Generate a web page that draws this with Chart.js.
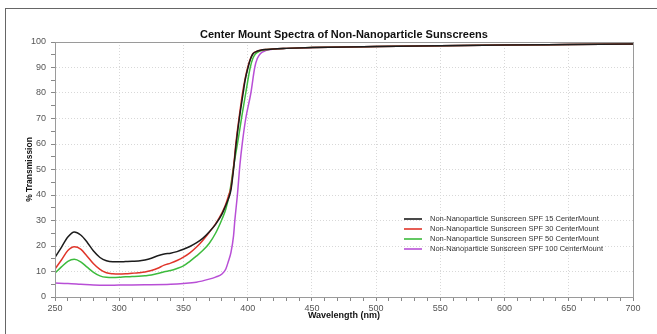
<!DOCTYPE html>
<html>
<head>
<meta charset="utf-8">
<script src="https://cdn.jsdelivr.net/npm/chart.js@4/dist/chart.umd.min.js"></script>
<style>
  html, body { margin: 0; padding: 0; background: #fff; }
  #wrap { position: relative; width: 657px; height: 334px; overflow: hidden; }
  #frame { position: absolute; left: 5px; top: 8px; width: 700px; height: 400px;
           border-left: 1.5px solid #666; border-top: 1.5px solid #666; }
  canvas { position: absolute; left: 0; top: 0; }
</style>
</head>
<body>
<div id="wrap">
  <div id="frame"></div>
  <canvas id="spectra" width="657" height="334"></canvas>
</div>
<script>
const chartTitle = 'Center Mount Spectra of Non-Nanoparticle Sunscreens';
const seriesNames = [
  'Non-Nanoparticle Sunscreen SPF 15 CenterMount',
  'Non-Nanoparticle Sunscreen SPF 30 CenterMount',
  'Non-Nanoparticle Sunscreen SPF 50 CenterMount',
  'Non-Nanoparticle Sunscreen SPF 100 CenterMount'
];
const seriesColors = ['#1c1c1c', '#e0352a', '#3dbb3d', '#b84fd6'];

// wavelength (nm) / % transmission pairs, one set per sunscreen
const spf15Nm = [250, 255, 260, 265, 270, 275, 280, 285, 290, 295, 300, 305, 310, 315, 320, 325, 330, 335, 340, 345, 350, 355, 360, 365, 370, 375, 380, 383, 385, 387, 389, 391, 393.5, 396.5, 398, 400.3, 402, 404, 407, 410, 415, 420, 430, 450, 500, 550, 600, 650, 700];
const spf15T  = [15.5, 19.5, 23.5, 25.5, 24.3, 21.5, 18, 15.5, 14.2, 13.8, 13.8, 13.9, 14, 14.1, 14.5, 15.2, 16.2, 16.9, 17.2, 17.8, 18.7, 19.8, 21.2, 23, 25.5, 28.5, 32.5, 36, 38.5, 42, 50, 60, 70, 80, 85, 90, 93, 95.3, 96.3, 96.8, 97.1, 97.3, 97.5, 97.8, 98.2, 98.5, 98.8, 99, 99.2];

const spf30Nm = [250, 255, 260, 265, 270, 275, 280, 285, 290, 295, 300, 305, 310, 315, 320, 325, 330, 335, 340, 345, 350, 355, 360, 365, 370, 375, 380, 383, 385, 387, 389, 391, 393.5, 396, 398, 400, 402, 404, 407, 410, 415, 420, 430, 450, 500, 550, 600, 650, 700];
const spf30T  = [11, 14.5, 18.2, 19.7, 18.8, 16, 13, 10.8, 9.5, 9.1, 9, 9.1, 9.3, 9.5, 9.8, 10.4, 11.3, 12.5, 13.3, 14.3, 15.6, 17.3, 19.5, 22.2, 25.3, 28.7, 33, 36.5, 39.5, 43, 51, 61, 71, 80, 85.5, 90, 93.2, 95.4, 96.3, 96.8, 97.1, 97.3, 97.5, 97.8, 98.2, 98.5, 98.8, 99, 99.2];

const spf50Nm = [250, 255, 260, 265, 270, 275, 280, 285, 290, 295, 300, 305, 310, 315, 320, 325, 330, 335, 340, 345, 350, 355, 360, 365, 370, 375, 380, 383, 386, 389, 391, 393, 395.5, 398.5, 402, 404, 406, 409, 412, 416, 420, 430, 450, 500, 550, 600, 650, 700];
const spf50T  = [9.4, 11.8, 14, 14.8, 13.8, 11.7, 9.7, 8.3, 7.7, 7.6, 7.7, 7.9, 8, 8.1, 8.3, 8.6, 9.2, 9.9, 10.4, 11.2, 12.2, 14, 16, 18.2, 21, 25, 30.5, 34.5, 41, 51, 57, 63, 71, 80, 90, 93.5, 95.3, 96.3, 96.8, 97.1, 97.3, 97.5, 97.8, 98.2, 98.5, 98.8, 99, 99.2];

const spf100Nm = [250, 260, 270, 280, 290, 300, 320, 340, 350, 360, 370, 375, 380, 383, 385, 387, 389, 390, 392, 394, 396, 398.5, 402.5, 405.5, 407.5, 410, 414, 420, 430, 450, 500, 550, 600, 650, 700];
const spf100T  = [5.5, 5.3, 5, 4.7, 4.6, 4.7, 4.8, 5, 5.3, 5.8, 7, 7.8, 9, 11, 14, 17.5, 24, 30, 40, 52, 61, 70, 80, 90, 93.5, 95.5, 96.6, 97.2, 97.5, 97.8, 98.2, 98.5, 98.8, 99, 99.2];

const wavelengthTicks = [250, 300, 350, 400, 450, 500, 550, 600, 650, 700];
const transmissionTicks = [0, 10, 20, 30, 40, 50, 60, 70, 80, 90, 100];

function toPoints(xs, ys) {
  return xs.map((x, i) => ({ x: x, y: ys[i] }));
}

const allSeries = [
  toPoints(spf15Nm, spf15T),
  toPoints(spf30Nm, spf30T),
  toPoints(spf50Nm, spf50T),
  toPoints(spf100Nm, spf100T)
];

const FONT = '"Liberation Sans", Arial, Helvetica, sans-serif';

// title, plot frame and the boxed-in legend
const decorPlugin = {
  id: 'decor',
  afterDraw(chart) {
    const ctx = chart.ctx;
    const a = chart.chartArea;
    ctx.save();
    ctx.strokeStyle = '#9a9a9a';
    ctx.lineWidth = 1;
    ctx.strokeRect(a.left + 0.5, a.top + 0.5, a.right - a.left, a.bottom - a.top);

    ctx.fillStyle = '#111';
    ctx.font = 'bold 11px ' + FONT;
    ctx.textAlign = 'center';
    ctx.textBaseline = 'middle';
    ctx.fillText(chartTitle, (a.left + a.right) / 2, 35);

    ctx.font = '7.5px ' + FONT;
    ctx.textAlign = 'left';
    chart.data.datasets.forEach((ds, i) => {
      const y = 219 + i * 10;
      ctx.strokeStyle = ds.borderColor;
      ctx.lineWidth = 1.6;
      ctx.beginPath();
      ctx.moveTo(404, y);
      ctx.lineTo(422, y);
      ctx.stroke();
      ctx.fillStyle = '#333';
      ctx.fillText(ds.label, 430, y);
    });
    ctx.restore();
  }
};

const ctx = document.getElementById('spectra').getContext('2d');
const chart = new Chart(ctx, {
  type: 'line',
  data: {
    datasets: allSeries.map((pts, i) => ({
      label: seriesNames[i],
      data: pts,
      borderColor: seriesColors[i],
      backgroundColor: seriesColors[i],
      borderWidth: 1.5,
      pointRadius: 0,
      tension: 0.4,
      cubicInterpolationMode: 'monotone'
    }))
  },
  options: {
    responsive: false,
    animation: false,
    layout: { padding: { left: 0, right: 24, top: 42, bottom: 0 } },
    plugins: {
      legend: { display: false },
      title: { display: false },
      tooltip: { enabled: false }
    },
    scales: {
      x: {
        type: 'linear',
        min: 250,
        max: 700,
        afterFit(scale) { scale.height = 37; },
        afterBuildTicks(scale) {
          const t = [];
          for (let v = 250; v <= 700; v += 10) t.push({ value: v });
          scale.ticks = t;
        },
        ticks: {
          autoSkip: false,
          maxRotation: 0,
          padding: 2,
          color: '#555',
          font: { family: FONT, size: 9 },
          callback: v => wavelengthTicks.includes(v) ? String(v) : ''
        },
        grid: {
          color: c => (c.tick && c.tick.value % 50 === 0) ? '#d8d8d8' : 'rgba(0,0,0,0)',
          tickColor: '#888',
          tickLength: 4,
          lineWidth: 1
        },
        border: { display: true, color: '#888', dash: [1, 2] },
        title: {
          display: true,
          text: 'Wavelength (nm)',
          color: '#111',
          font: { family: FONT, size: 9, weight: 'bold' },
          padding: { top: 0, bottom: 12.6 }
        }
      },
      y: {
        min: 0,
        max: 100,
        afterFit(scale) { scale.width = 55; },
        afterBuildTicks(scale) {
          const t = [];
          for (let v = 0; v <= 100; v += 5) t.push({ value: v });
          scale.ticks = t;
        },
        ticks: {
          autoSkip: false,
          padding: 5,
          color: '#555',
          font: { family: FONT, size: 9 },
          callback: v => transmissionTicks.includes(v) ? String(v) : ''
        },
        grid: {
          color: c => (c.tick && c.tick.value % 10 === 0) ? '#d8d8d8' : 'rgba(0,0,0,0)',
          tickColor: '#888',
          tickLength: 4,
          lineWidth: 1
        },
        border: { display: true, color: '#888', dash: [1, 2] },
        title: {
          display: true,
          text: '% Transmission',
          color: '#111',
          font: { family: FONT, size: 8.5, weight: 'bold' },
          padding: { top: 24.6, bottom: 0 }
        }
      }
    }
  },
  plugins: [decorPlugin]
});
</script>
</body>
</html>
